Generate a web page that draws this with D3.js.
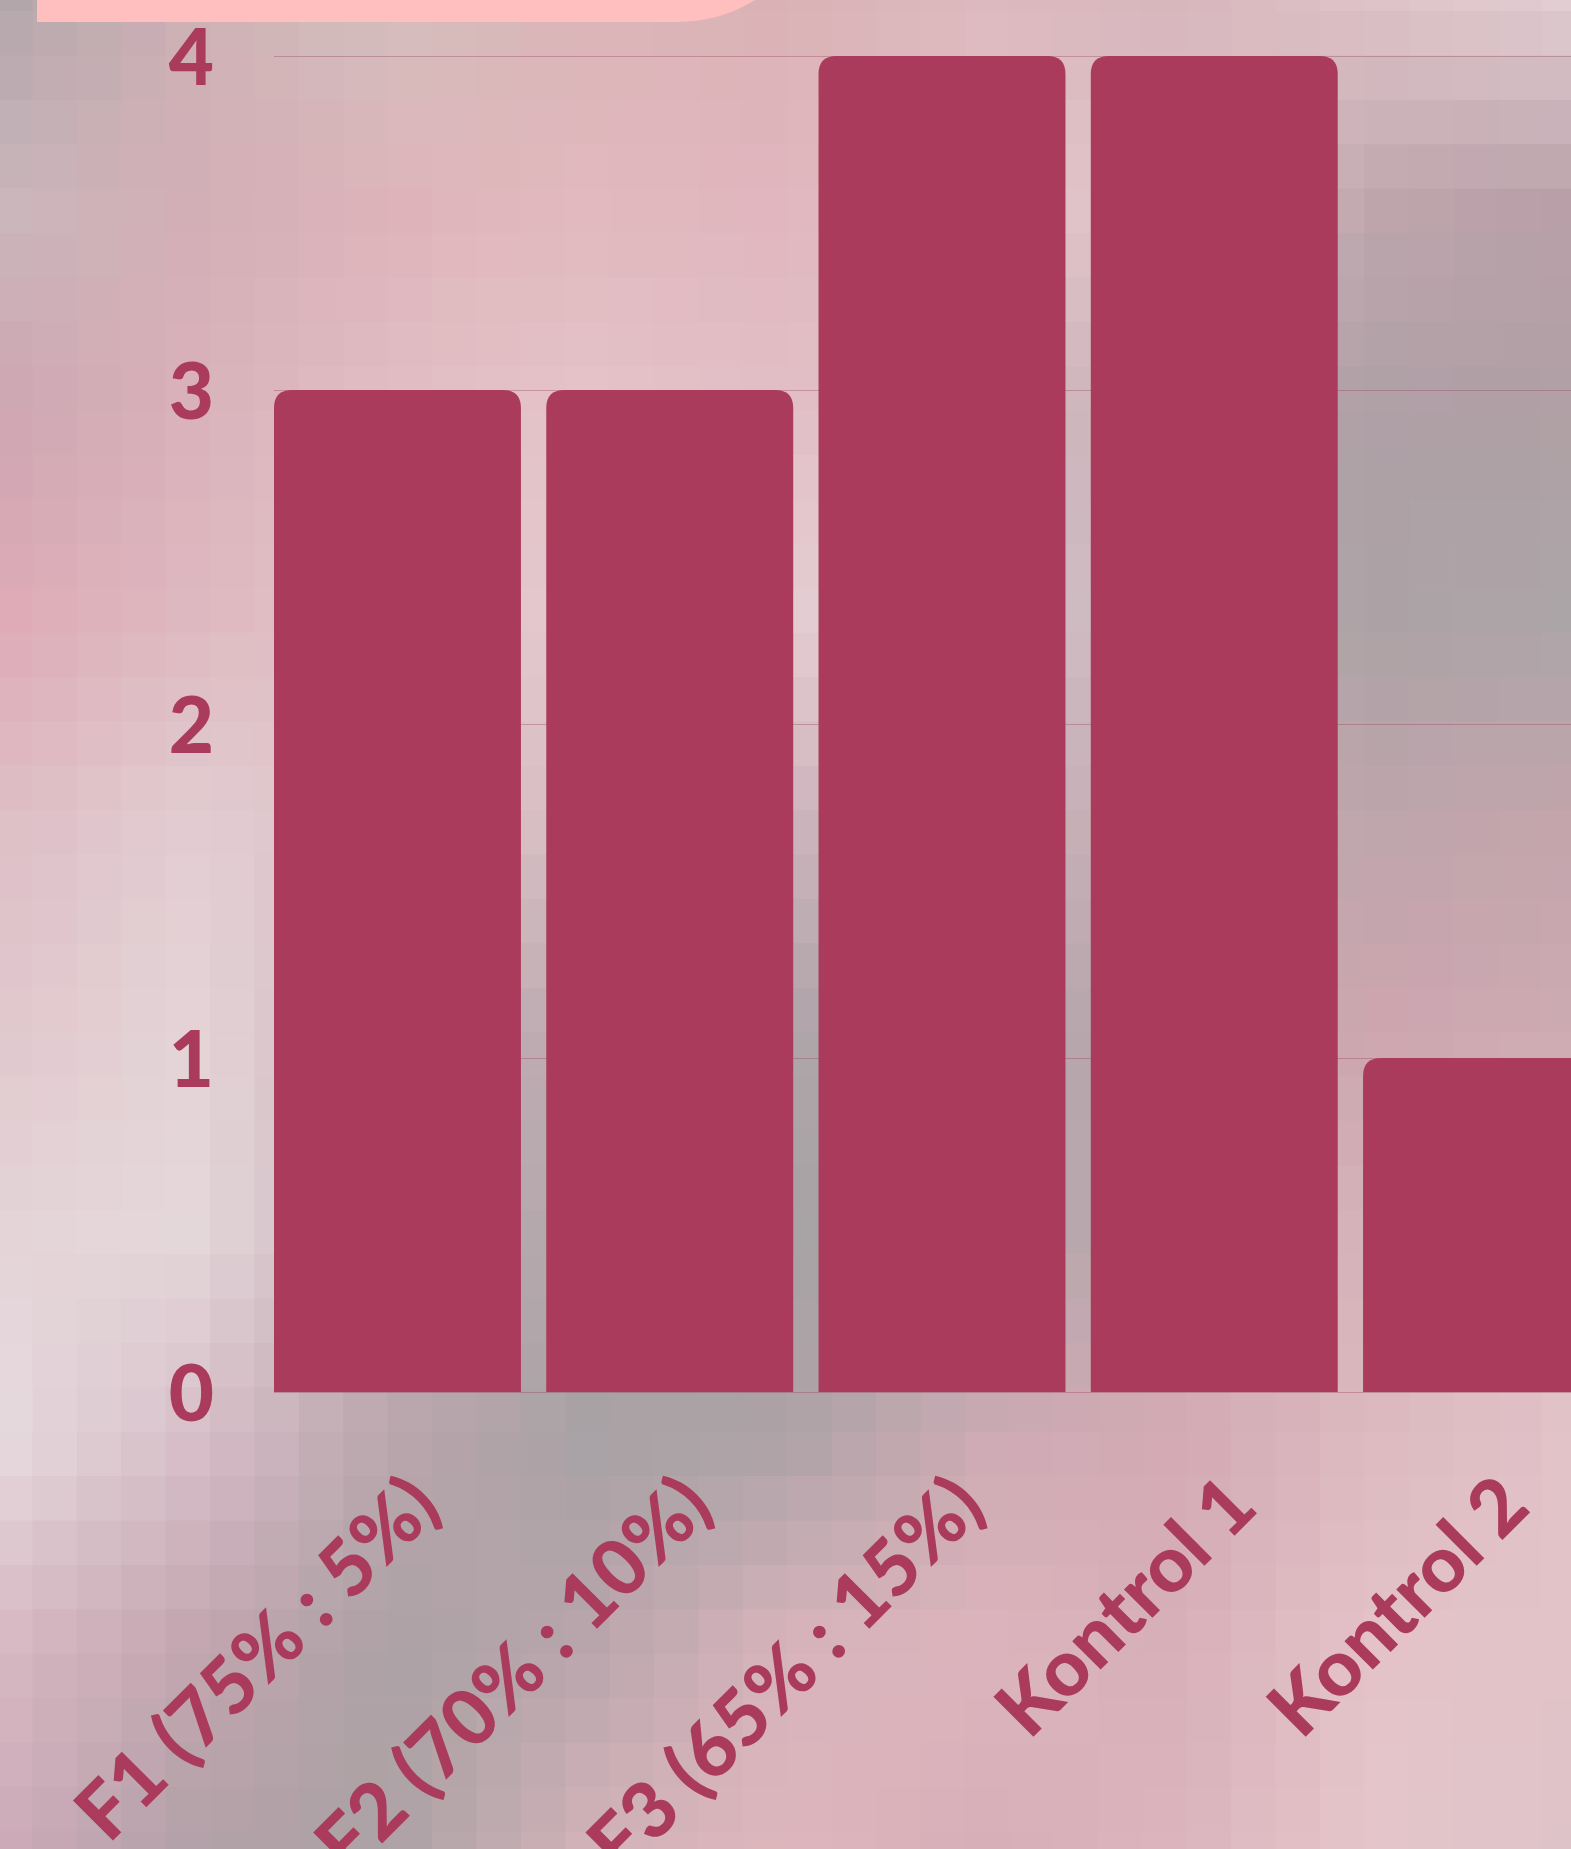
<!DOCTYPE html>
<html>
<head>
<meta charset="utf-8">
<script src="https://cdn.jsdelivr.net/npm/d3@7"></script>
<style>
  html, body { margin: 0; padding: 0; overflow: hidden; background: #d8b4bc; }
  svg { display: block; }
  text { font-family: "Lato", "Noto Sans", sans-serif; font-weight: 900; }
</style>
</head>
<body>
<svg id="chart" width="1571" height="1849"></svg>
<script>
// Bar values per group
const categories = ["F1 (75% : 5%)", "F2 (70% : 10%)", "F3 (65% : 15%)", "Kontrol 1", "Kontrol 2"];
const values = [3, 3, 4, 4, 1];
const yTicks = [0, 1, 2, 3, 4];

// Backdrop palette: coarse colour grid (rows top to bottom, columns left to right)
const backdropRows = [
  ["#b2a5aa", "#cdb2b6", "#d4bebc", "#dab4b7", "#dab2b6", "#dcb9be", "#d7b6bc", "#dec3c8", "#e1cdd2"],
  ["#cab6bb", "#d2afb6", "#deb4ba", "#e1b9be", "#e1b6be", "#e1c3c8", "#dec3c8", "#bea5ac", "#b9a0a8"],
  ["#cda5b2", "#dab2ba", "#e1bec4", "#e4c3c8", "#e1bec6", "#e1c3ca", "#b9a5ac", "#aea0a6", "#b0a0a5"],
  ["#deaab6", "#deb9c0", "#e1c3c8", "#e4c8cd", "#e4cdd2", "#e1cdd2", "#b9a8ae", "#aca2a5", "#aca5a8"],
  ["#debec6", "#e2cdd2", "#dcc3c8", "#d7bec3", "#cdb4bc", "#cdb4bc", "#c3aab2", "#bea5ac", "#c3a5ac"],
  ["#e1c8cd", "#e4d4d7", "#cdb4bc", "#b9aaaf", "#afa5aa", "#aca5a8", "#c3aab2", "#cda5af", "#cdaab2"],
  ["#e4d4d7", "#e4d7da", "#c8b2b9", "#afa5a8", "#a8a3a5", "#aaa5a8", "#c8aab2", "#d7b2ba", "#dcb9be"],
  ["#e6dade", "#d7bec8", "#b9a5ac", "#a8a2a5", "#aca2a6", "#cdaab4", "#d4aab4", "#dcb9c0", "#e1c3c8"],
  ["#d7b9c3", "#c3a5af", "#aca2a5", "#b9a5ac", "#d7b4bc", "#dcb4bc", "#d7afb9", "#e4c3c8", "#e1c3c8"],
  ["#cdaab9", "#b2a2a8", "#aca2a5", "#d2b2b9", "#deb6bc", "#d7afb9", "#dcb4be", "#e4c6ca", "#dec3c8"]
];

const W = 1571, H = 1849;
const svg = d3.select("#chart");

// ---- pixel-mosaic backdrop ----
const cell = 44.4, originX = -12, originY = -33.4;
const gx = d3.scaleLinear().domain([0, W]).range([0, backdropRows[0].length - 1]).clamp(true);
const gy = d3.scaleLinear().domain([0, H]).range([0, backdropRows.length - 1]).clamp(true);
function backdropColor(x, y) {
  const fx = gx(x), fy = gy(y);
  const i0 = Math.floor(fx), j0 = Math.floor(fy);
  const i1 = Math.min(i0 + 1, backdropRows[0].length - 1), j1 = Math.min(j0 + 1, backdropRows.length - 1);
  const tx = fx - i0, ty = fy - j0;
  const top = d3.interpolateRgb(backdropRows[j0][i0], backdropRows[j0][i1])(tx);
  const bot = d3.interpolateRgb(backdropRows[j1][i0], backdropRows[j1][i1])(tx);
  return d3.interpolateRgb(top, bot)(ty);
}
const cells = [];
for (let y = originY; y < H; y += cell) {
  for (let x = originX; x < W; x += cell) {
    cells.push({ x, y, c: backdropColor(x + cell / 2, y + cell / 2) });
  }
}
svg.append("g").attr("class", "backdrop")
  .selectAll("rect").data(cells).join("rect")
  .attr("x", d => d.x).attr("y", d => d.y)
  .attr("width", cell + 0.6).attr("height", cell + 0.6)
  .attr("fill", d => d.c);

// ---- header tab ----
svg.append("path")
  .attr("d", "M37,-10 L824,-10 L824,-124 A146,146 0 0 1 678,22 L37,22 Z")
  .attr("fill", "#ffbfbf");

// ---- scales ----
const x = d3.scaleBand().domain(categories)
  .range([274, 1610]).paddingInner(0.093).paddingOuter(0).align(0);
const y = d3.scaleLinear().domain([0, 4]).range([1392, 56]);
const barColor = "#ab3b5c";

// ---- gridlines ----
svg.append("g")
  .attr("transform", "translate(274,0)")
  .call(d3.axisRight(y).tickValues(yTicks).tickSize(W - 274).tickFormat(""))
  .call(g => g.select(".domain").remove())
  .call(g => g.selectAll("line").attr("stroke", "rgba(150,60,90,0.35)").attr("stroke-width", 1));

// ---- bars with rounded top corners ----
const r = 18;
function barPath(d, i) {
  const x0 = x(categories[i]), w = x.bandwidth();
  const yt = y(d), yb = y(0);
  return `M${x0},${yb} L${x0},${yt + r} Q${x0},${yt} ${x0 + r},${yt} L${x0 + w - r},${yt} Q${x0 + w},${yt} ${x0 + w},${yt + r} L${x0 + w},${yb} Z`;
}
svg.append("g").selectAll("path").data(values).join("path")
  .attr("d", barPath)
  .attr("fill", barColor);

// ---- y axis labels ----
svg.append("g")
  .attr("transform", "translate(274,0)")
  .call(d3.axisLeft(y).tickValues(yTicks).tickSize(0).tickPadding(60).tickFormat(d3.format("d")))
  .call(g => g.select(".domain").remove())
  .call(g => g.selectAll("text")
    .attr("fill", barColor)
    .attr("font-size", 78)
    .attr("font-family", "Lato, 'Noto Sans', sans-serif")
    .attr("font-weight", 900)
    .attr("dy", "0.36em"));

// ---- x axis labels, rotated ----
svg.append("g").selectAll("text").data(categories).join("text")
  .attr("transform", d => `translate(${x(d) + x.bandwidth() / 2 + 46},1510) rotate(-45)`)
  .attr("text-anchor", "end")
  .attr("fill", barColor)
  .attr("font-size", 78)
  .text(d => d);
</script>
</body>
</html>
